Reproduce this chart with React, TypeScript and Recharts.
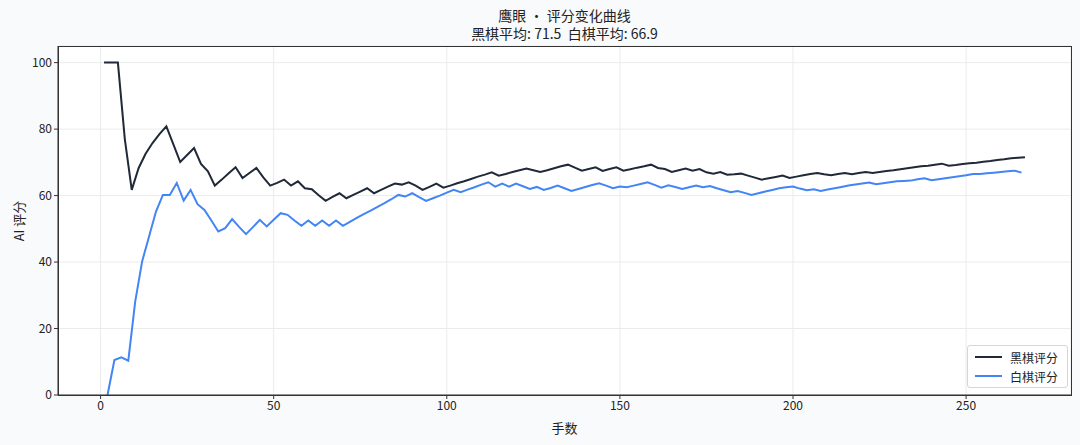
import { CartesianGrid, Line, LineChart, XAxis, YAxis } from "recharts";

const FONT = '"Noto Sans CJK SC", "Noto Sans", sans-serif';

const TITLE = "鹰眼 · 评分变化曲线";
const SUBTITLE = "黑棋平均: 71.5  白棋平均: 66.9";
const X_LABEL = "手数";
const Y_LABEL = "AI 评分";
const BLACK_NAME = "黑棋评分";
const WHITE_NAME = "白棋评分";

const X_TICKS = [0, 50, 100, 150, 200, 250];
const Y_TICKS = [0, 20, 40, 60, 80, 100];

// black plays the odd moves, white the even ones
const BLACK_FIRST_MOVE = 1;
const WHITE_FIRST_MOVE = 2;
const MOVE_STEP = 2;

// moves 1, 3, 5 ... 267
const BLACK_SCORES = [
  100, 100, 100, 77, 61.7, 68.3, 72.6, 75.8, 78.5, 80.8,
  75.5, 70.1, 72.2, 74.3, 69.5, 67.3, 63.0, 64.8, 66.7, 68.5,
  65.3, 66.8, 68.3, 65.5, 63.0, 63.8, 64.8, 63.0, 64.3, 62.2,
  61.9, 60.1, 58.4, 59.6, 60.7, 59.2, 60.2, 61.2, 62.2, 60.7,
  61.7, 62.7, 63.6, 63.3, 64.0, 63.0, 61.7, 62.6, 63.6, 62.4,
  63.0, 63.7, 64.3, 65.0, 65.7, 66.3, 67.0, 66.0, 66.5, 67.1,
  67.6, 68.1, 67.6, 67.1, 67.6, 68.2, 68.8, 69.3, 68.4, 67.5,
  68.0, 68.5, 67.4, 68.0, 68.5, 67.5, 67.9, 68.4, 68.8, 69.3,
  68.3, 68.0, 67.1, 67.6, 68.1, 67.5, 68.0, 67.0, 66.6, 67.1,
  66.3, 66.4, 66.6, 66.0, 65.4, 64.8, 65.2, 65.6, 66.0, 65.3,
  65.7, 66.1, 66.5, 66.8, 66.4, 66.1, 66.5, 66.8, 66.4, 66.8,
  67.1, 66.8, 67.1, 67.4, 67.6, 67.9, 68.2, 68.5, 68.8, 69.0,
  69.3, 69.6, 69.0, 69.2, 69.5, 69.7, 69.9, 70.2, 70.4, 70.7,
  70.9, 71.2, 71.4, 71.5,
];

// moves 2, 4, 6 ... 266
const WHITE_SCORES = [
  0, 10.5, 11.3, 10.3, 28.1, 40.2, 47.7, 55.2, 60.2, 60.2,
  63.8, 58.5, 61.7, 57.4, 55.7, 52.5, 49.2, 50.2, 52.9, 50.6,
  48.4, 50.5, 52.7, 50.7, 52.7, 54.7, 54.2, 52.5, 50.9, 52.5,
  50.9, 52.5, 50.9, 52.5, 50.9, 52.1, 53.3, 54.4, 55.5, 56.6,
  57.7, 58.9, 60.2, 59.7, 60.7, 59.5, 58.4, 59.2, 60.0, 60.9,
  61.7, 61.0, 61.8, 62.5, 63.3, 64.0, 62.7, 63.6, 62.7, 63.6,
  62.8, 62.0, 62.6, 61.7, 62.3, 63.0, 62.2, 61.4, 62.0, 62.6,
  63.2, 63.7, 63.0, 62.2, 62.7, 62.5, 63.0, 63.5, 64.0, 63.2,
  62.4, 63.1, 62.6, 62.0, 62.5, 63.0, 62.5, 62.9, 62.2, 61.6,
  61.0, 61.4, 60.8, 60.2, 60.7, 61.2, 61.7, 62.2, 62.5, 62.7,
  62.1, 61.6, 61.9, 61.4, 61.8, 62.2, 62.6, 63.0, 63.3, 63.6,
  63.9, 63.4, 63.7, 64.0, 64.3, 64.4, 64.5, 64.9, 65.2, 64.6,
  64.9, 65.2, 65.5, 65.8, 66.1, 66.5, 66.5, 66.7, 66.9, 67.1,
  67.3, 67.5, 66.9,
];

const BLACK_COLOR = "#1f2937";
const WHITE_COLOR = "#4285f4";

const W = 1080;
const H = 445;
const PLOT = { left: 58, top: 46, right: 1071, bottom: 395 };

const blackData = BLACK_SCORES.map((score, i) => ({
  move: BLACK_FIRST_MOVE + i * MOVE_STEP,
  score,
}));
const whiteData = WHITE_SCORES.map((score, i) => ({
  move: WHITE_FIRST_MOVE + i * MOVE_STEP,
  score,
}));

const tickStyle = { fontSize: 12, fill: "#222", fontFamily: FONT };

export default function App() {
  const cx = (PLOT.left + PLOT.right) / 2;
  const cy = (PLOT.top + PLOT.bottom) / 2;
  return (
    <div
      style={{
        position: "absolute",
        left: 0,
        top: 0,
        width: W,
        height: H,
        background: "#f8fafc",
        fontFamily: FONT,
        color: "#222",
      }}
    >
      <div
        style={{
          position: "absolute",
          left: cx - 300,
          width: 600,
          top: 6,
          textAlign: "center",
          fontSize: 14,
          lineHeight: "18px",
          whiteSpace: "pre",
        }}
      >
        <div>{TITLE}</div>
        <div>{SUBTITLE}</div>
      </div>

      <LineChart
        width={W}
        height={H}
        margin={{ top: PLOT.top, left: PLOT.left - 50, right: W - PLOT.right, bottom: H - PLOT.bottom - 30 }}
        style={{ position: "absolute", left: 0, top: 0 }}
      >
        <CartesianGrid stroke="#ebebeb" fill="#ffffff" />
        <XAxis
          type="number"
          dataKey="move"
          domain={[-12.3, 280.3]}
          ticks={X_TICKS}
          allowDataOverflow
          height={30}
          tickSize={4}
          tick={tickStyle}
          stroke="#333"
        />
        <YAxis
          type="number"
          domain={[0, 105]}
          ticks={Y_TICKS}
          allowDataOverflow
          width={50}
          tickSize={4}
          tick={tickStyle}
          stroke="#333"
        />
        <Line
          data={blackData}
          dataKey="score"
          name={BLACK_NAME}
          type="linear"
          stroke={BLACK_COLOR}
          strokeWidth={2}
          dot={false}
          isAnimationActive={false}
        />
        <Line
          data={whiteData}
          dataKey="score"
          name={WHITE_NAME}
          type="linear"
          stroke={WHITE_COLOR}
          strokeWidth={2}
          dot={false}
          isAnimationActive={false}
        />
      </LineChart>

      {/* axes frame */}
      <div
        style={{
          position: "absolute",
          left: PLOT.left,
          top: PLOT.top,
          width: PLOT.right - PLOT.left - 1,
          height: PLOT.bottom - PLOT.top - 1,
          border: "1px solid #333",
          pointerEvents: "none",
        }}
      />

      {/* axis labels */}
      <div
        style={{
          position: "absolute",
          left: cx - 50,
          width: 100,
          top: 418,
          textAlign: "center",
          fontSize: 13,
        }}
      >
        {X_LABEL}
      </div>
      <div
        style={{
          position: "absolute",
          left: 19 - 50,
          width: 100,
          top: cy - 10,
          textAlign: "center",
          fontSize: 13,
          lineHeight: "20px",
          transform: "rotate(-90deg)",
        }}
      >
        {Y_LABEL}
      </div>

      {/* legend */}
      <div
        style={{
          position: "absolute",
          left: 967,
          top: 345,
          width: 99,
          height: 41,
          border: "1px solid #d6d6d6",
          borderRadius: 3,
          background: "rgba(255,255,255,0.9)",
          fontSize: 12,
        }}
      >
        {[
          { name: BLACK_NAME, color: BLACK_COLOR },
          { name: WHITE_NAME, color: WHITE_COLOR },
        ].map((item, i) => (
          <div
            key={item.name}
            style={{
              position: "absolute",
              left: 7,
              top: 2 + i * 19,
              height: 18,
              display: "flex",
              alignItems: "center",
            }}
          >
            <span style={{ display: "inline-block", width: 27, height: 2, background: item.color }} />
            <span style={{ marginLeft: 8 }}>{item.name}</span>
          </div>
        ))}
      </div>
    </div>
  );
}
